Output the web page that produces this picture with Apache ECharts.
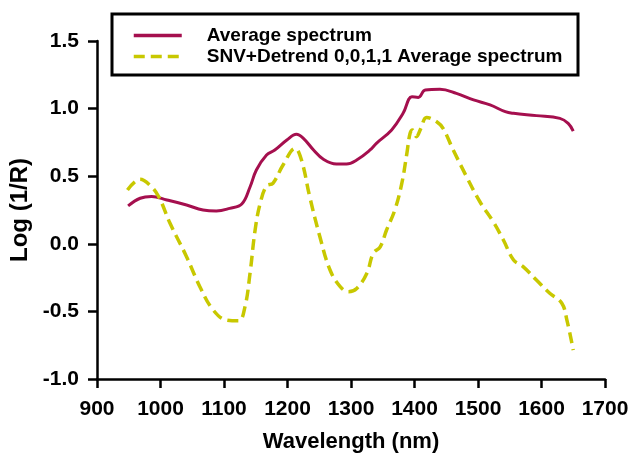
<!DOCTYPE html>
<html>
<head>
<meta charset="utf-8">
<script src="https://cdn.jsdelivr.net/npm/echarts@6/dist/echarts.min.js"></script>
<style>html,body{margin:0;padding:0;background:#fff}#c{width:632px;height:455px}</style>
</head>
<body>
<div id="c"></div>
<script>
var xTicks = [900, 1000, 1100, 1200, 1300, 1400, 1500, 1600, 1700];
var yTicks = [-1.0, -0.5, 0.0, 0.5, 1.0, 1.5];
var seriesNames = ['Average spectrum', 'SNV+Detrend 0,0,1,1 Average spectrum'];

var avgWl  = [949, 968, 986, 1010, 1041, 1067, 1088, 1109, 1128, 1141, 1151, 1167, 1180, 1199, 1214, 1225, 1241, 1256, 1277, 1293, 1309, 1330, 1340, 1364, 1382, 1396, 1406, 1417, 1440, 1466, 1493, 1519, 1543, 1556, 1592, 1629, 1642, 1650];
var avgVal = [0.28, 0.337, 0.35, 0.324, 0.287, 0.25, 0.243, 0.262, 0.294, 0.42, 0.546, 0.657, 0.694, 0.768, 0.81, 0.78, 0.694, 0.627, 0.59, 0.59, 0.62, 0.694, 0.743, 0.842, 0.965, 1.088, 1.083, 1.138, 1.143, 1.113, 1.064, 1.027, 0.977, 0.965, 0.948, 0.928, 0.891, 0.834];

var snvWl  = [948, 968, 983, 997, 1015, 1041, 1062, 1083, 1104, 1123, 1133, 1141, 1149, 1157, 1167, 1177, 1193, 1212, 1222, 1235, 1251, 1267, 1283, 1296, 1309, 1325, 1335, 1346, 1356, 1369, 1380, 1388, 1393, 1397, 1403, 1410, 1419, 1435, 1445, 1461, 1482, 1503, 1524, 1540, 1556, 1571, 1592, 1613, 1632, 1640, 1650];
var snvVal = [0.398, 0.477, 0.435, 0.35, 0.152, -0.095, -0.317, -0.49, -0.564, -0.57, -0.466, -0.218, 0.102, 0.30, 0.428, 0.447, 0.583, 0.706, 0.62, 0.348, 0.052, -0.194, -0.317, -0.354, -0.33, -0.218, -0.07, -0.022, 0.102, 0.25, 0.447, 0.669, 0.817, 0.842, 0.792, 0.854, 0.935, 0.903, 0.854, 0.694, 0.496, 0.311, 0.163, 0.028, -0.12, -0.169, -0.268, -0.366, -0.44, -0.564, -0.786];

function pairs(xs, ys) { return xs.map(function (x, i) { return [x, ys[i]]; }); }

var FONT = 'Liberation Sans';
var chart = echarts.init(document.getElementById('c'));
chart.setOption({
  animation: false,
  backgroundColor: '#fff',
  grid: { left: 97, right: 27, top: 41, bottom: 76, containLabel: false, outerBoundsMode: 'none' },
  graphic: [{
    type: 'rect', shape: { x: 112, y: 14, width: 466, height: 61 },
    style: { fill: '#fff', stroke: '#000', lineWidth: 3 }, z: 0
  }],
  legend: {
    orient: 'vertical', left: 132, top: 26, padding: 0,
    itemWidth: 48, itemHeight: 12, itemGap: 2, z: 10,
    itemStyle: { opacity: 0 },
    lineStyle: { width: 3.5 },
    textStyle: { fontFamily: FONT, fontWeight: 'bold', fontSize: 19, color: '#000', padding: [0, 0, 0, 20], lineHeight: 19 },
    data: seriesNames
  },
  xAxis: {
    type: 'value', min: xTicks[0], max: xTicks[xTicks.length - 1], interval: 100,
    name: 'Wavelength (nm)', nameLocation: 'middle', nameGap: 52,
    nameTextStyle: { fontFamily: FONT, fontSize: 22, color: '#000', fontWeight: 'bold' },
    axisLine: { onZero: false, lineStyle: { color: '#000', width: 2.5 } },
    axisTick: { inside: false, length: 9, lineStyle: { color: '#000', width: 2.5 } },
    axisLabel: { fontFamily: FONT, fontSize: 21, color: '#000', margin: 20, fontWeight: 'bold',
      formatter: function (v) { return String(v); } },
    splitLine: { show: false }
  },
  yAxis: {
    type: 'value', min: yTicks[0], max: yTicks[yTicks.length - 1], interval: 0.5,
    name: 'Log (1/R)', nameLocation: 'middle', nameGap: 64, nameRotate: 90,
    nameTextStyle: { fontFamily: FONT, fontSize: 24, color: '#000', fontWeight: 'bold' },
    axisLine: { onZero: false, lineStyle: { color: '#000', width: 2.5 } },
    axisTick: { inside: false, length: 9, lineStyle: { color: '#000', width: 2.5 } },
    axisLabel: { fontFamily: FONT, fontSize: 21, color: '#000', margin: 18, fontWeight: 'bold',
      formatter: function (v) { return v.toFixed(1); } },
    splitLine: { show: false }
  },
  series: [{
    name: seriesNames[0], type: 'line', symbol: 'none', smooth: 0.4,
    data: pairs(avgWl, avgVal),
    lineStyle: { color: '#A50F4E', width: 3 }, itemStyle: { color: '#A50F4E' }
  }, {
    name: seriesNames[1], type: 'line', symbol: 'none', smooth: 0.4,
    data: pairs(snvWl, snvVal),
    lineStyle: { color: '#C8C800', width: 3.5, type: [11, 6] }, itemStyle: { color: '#C8C800' }
  }]
});
</script>
</body>
</html>
